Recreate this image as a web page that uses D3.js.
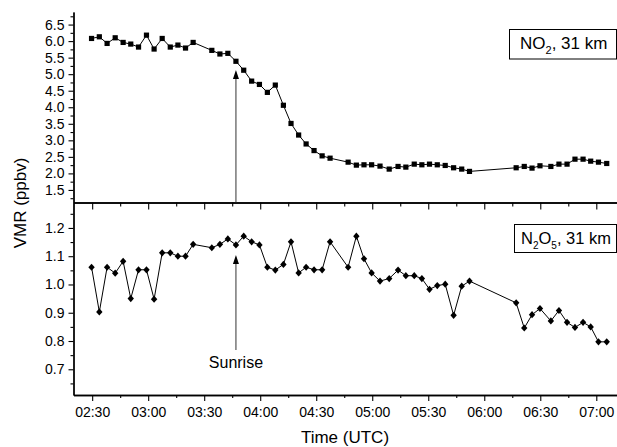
<!DOCTYPE html>
<html>
<head>
<meta charset="utf-8">
<script src="https://cdn.jsdelivr.net/npm/d3@7"></script>
<style>
  body { margin: 0; background: #fff; }
  #container { width: 617px; height: 447px; }
  text { font-family: "Liberation Sans", Arial, sans-serif; fill: #000; }
</style>
</head>
<body>
<div id="container"></div>
<script>
// measurement times (UTC), shared by both panels
const times = [
  "02:29:40","02:33:50","02:38:00","02:42:20","02:46:35","02:50:40","02:54:50","02:59:05","03:03:10","03:07:30",
  "03:11:50","03:15:55","03:20:00","03:24:05","03:34:05","03:38:25","03:42:40","03:47:00","03:51:10","03:55:25",
  "03:59:35","04:03:50","04:08:05","04:12:25","04:16:30","04:20:35","04:24:35","04:28:50","04:33:10","04:37:25",
  "04:47:05","04:51:30","04:55:35","04:59:40","05:04:10","05:09:05","05:13:50","05:18:00","05:22:30","05:26:35",
  "05:30:40","05:34:50","05:39:05","05:43:35","05:47:55","05:52:05","06:17:05","06:21:25","06:25:35","06:29:50",
  "06:35:40","06:40:00","06:44:20","06:48:35","06:52:55","06:57:00","07:01:10","07:05:35"
];

// NO2 VMR (ppbv), 31 km
const no2 = [
  6.08, 6.13, 5.93, 6.10, 5.96, 5.91, 5.82, 6.18, 5.76, 6.08,
  5.82, 5.88, 5.79, 5.96, 5.72, 5.61, 5.63, 5.39, 5.12, 4.79,
  4.69, 4.45, 4.67, 4.06, 3.51, 3.16, 2.89, 2.69, 2.53, 2.46,
  2.34, 2.25, 2.26, 2.26, 2.22, 2.13, 2.21, 2.19, 2.28, 2.26,
  2.28, 2.26, 2.24, 2.17, 2.13, 2.06, 2.17, 2.21, 2.16, 2.23,
  2.21, 2.28, 2.28, 2.43, 2.43, 2.37, 2.34, 2.30
];

// N2O5 VMR (ppbv), 31 km
const n2o5 = [
  1.061, 0.903, 1.061, 1.040, 1.082, 0.950, 1.052, 1.052, 0.948, 1.112,
  1.112, 1.100, 1.100, 1.142, 1.130, 1.142, 1.161, 1.140, 1.171, 1.151,
  1.140, 1.061, 1.051, 1.071, 1.151, 1.041, 1.061, 1.052, 1.052, 1.151,
  1.061, 1.171, 1.091, 1.041, 1.012, 1.021, 1.051, 1.031, 1.031, 1.021,
  0.983, 0.996, 1.001, 0.891, 0.994, 1.012, 0.935, 0.846, 0.893, 0.915,
  0.871, 0.908, 0.866, 0.848, 0.866, 0.850, 0.797, 0.797
];

const xMajorTicks = ["02:30","03:00","03:30","04:00","04:30","05:00","05:30","06:00","06:30","07:00"];
const xMinorTicks = ["02:45","03:15","03:45","04:15","04:45","05:15","05:45","06:15","06:45"];
const no2Ticks = [1.5, 2.0, 2.5, 3.0, 3.5, 4.0, 4.5, 5.0, 5.5, 6.0, 6.5];
const no2Minor = [1.25, 1.75, 2.25, 2.75, 3.25, 3.75, 4.25, 4.75, 5.25, 5.75, 6.25, 6.75];
const n2o5Ticks = [0.7, 0.8, 0.9, 1.0, 1.1, 1.2];
const n2o5Minor = [0.65, 0.75, 0.85, 0.95, 1.05, 1.15, 1.25];
const sunriseTime = "03:47:00";

const parseTime = d3.timeParse("%H:%M:%S");
const parseHM = d3.timeParse("%H:%M");

function draw() {
  let width = 617, height = 447;

  let svg = d3.select("#container")
    .append("svg")
    .attr("width", width)
    .attr("height", height);

  const left = 73.5, right = 618.7;
  const topY = 12, midY = 202.5, botY = 395;

  const x = d3.scaleTime()
    .domain([parseHM("02:20"), parseHM("07:12")])
    .range([left, right]);

  const yTop = d3.scaleLinear().domain([1.12, 6.88]).range([midY, topY]);
  const yBot = d3.scaleLinear().domain([0.609, 1.29]).range([botY, midY]);

  const dates = times.map(parseTime);
  const topData = dates.map((d, i) => ({t: d, v: no2[i]}));
  const botData = dates.map((d, i) => ({t: d, v: n2o5[i]}));

  // ---- axes ----
  function leftAxis(scale, major, minor) {
    svg.append("g")
      .attr("class", "y_minor")
      .attr("transform", "translate(" + left + ",0)")
      .call(d3.axisLeft(scale).tickValues(minor).tickSize(3).tickFormat("").tickSizeOuter(0));
    svg.append("g")
      .attr("class", "y_axis")
      .attr("transform", "translate(" + left + ",0)")
      .call(d3.axisLeft(scale).tickValues(major).tickSize(5).tickPadding(4).tickSizeOuter(0)
        .tickFormat(d3.format(".1f")));
  }
  leftAxis(yTop, no2Ticks, no2Minor);
  leftAxis(yBot, n2o5Ticks, n2o5Minor);

  // bottom time axis
  svg.append("g")
    .attr("transform", "translate(0," + botY + ")")
    .call(d3.axisBottom(x).tickValues(xMinorTicks.map(parseHM)).tickSize(3).tickFormat("").tickSizeOuter(0));
  svg.append("g")
    .attr("class", "x_axis")
    .attr("transform", "translate(0," + botY + ")")
    .call(d3.axisBottom(x).tickValues(xMajorTicks.map(parseHM)).tickSize(6).tickPadding(6).tickSizeOuter(0)
      .tickFormat(d3.timeFormat("%H:%M")));

  // separator line (top of lower panel) with inward ticks
  svg.append("g")
    .attr("transform", "translate(0," + midY + ")")
    .call(d3.axisBottom(x).tickValues(xMinorTicks.map(parseHM)).tickSize(4).tickFormat("").tickSizeOuter(0));
  svg.append("g")
    .attr("transform", "translate(0," + midY + ")")
    .call(d3.axisBottom(x).tickValues(xMajorTicks.map(parseHM)).tickSize(7).tickFormat("").tickSizeOuter(0));

  svg.selectAll(".domain").attr("stroke", "#000").attr("stroke-width", 1.3);
  svg.selectAll(".tick line").attr("stroke", "#000").attr("stroke-width", 1.1);
  svg.selectAll(".y_axis text").style("font-size", "14px");
  svg.selectAll(".x_axis text").style("font-size", "14px");

  // ---- series ----
  const lineTop = d3.line().x(d => x(d.t)).y(d => yTop(d.v));
  const lineBot = d3.line().x(d => x(d.t)).y(d => yBot(d.v));

  svg.append("path")
    .datum(topData)
    .attr("d", lineTop)
    .attr("fill", "none")
    .attr("stroke", "#000")
    .attr("stroke-width", 1);

  svg.append("g").selectAll("rect")
    .data(topData)
    .enter()
    .append("rect")
    .attr("x", d => x(d.t) - 2.6)
    .attr("y", d => yTop(d.v) - 2.6)
    .attr("width", 5.2)
    .attr("height", 5.2)
    .attr("fill", "#000");

  svg.append("path")
    .datum(botData)
    .attr("d", lineBot)
    .attr("fill", "none")
    .attr("stroke", "#000")
    .attr("stroke-width", 1);

  svg.append("g").selectAll("path")
    .data(botData)
    .enter()
    .append("path")
    .attr("transform", d => "translate(" + x(d.t) + "," + yBot(d.v) + ")")
    .attr("d", "M0,-3.6L3.2,0L0,3.6L-3.2,0Z")
    .attr("fill", "#000");

  // ---- sunrise arrows ----
  const sx = x(parseTime(sunriseTime));
  function arrow(y1, y2) {
    svg.append("line")
      .attr("x1", sx).attr("x2", sx)
      .attr("y1", y1).attr("y2", y2 + 6)
      .attr("stroke", "#333")
      .attr("stroke-width", 1);
    svg.append("path")
      .attr("d", "M" + sx + "," + y2 + "L" + (sx - 3) + "," + (y2 + 9) + "L" + (sx + 3) + "," + (y2 + 9) + "Z")
      .attr("fill", "#000");
  }
  arrow(midY, 70);
  arrow(350, 255);

  svg.append("text")
    .attr("x", sx)
    .attr("y", 368)
    .attr("text-anchor", "middle")
    .style("font-size", "16px")
    .text("Sunrise");

  // ---- legend boxes ----
  function legendBox(y0, h, x0, pad, build) {
    svg.append("rect")
      .attr("x", x0).attr("y", y0)
      .attr("width", 616.5 - x0).attr("height", h)
      .attr("fill", "#fff")
      .attr("stroke", "#000")
      .attr("stroke-width", 1);
    let t = svg.append("text")
      .attr("x", x0 + pad)
      .attr("y", y0 + 19.5)
      .style("font-size", "17px");
    build(t);
  }

  legendBox(29.5, 29.5, 509.5, 10.5, t => {
    t.append("tspan").text("NO");
    t.append("tspan").attr("dy", 5).style("font-size", "11px").text("2");
    t.append("tspan").attr("dy", -5).text(", 31 km");
  });

  legendBox(224.5, 28, 514.5, 6.5, t => {
    t.style("font-size", "16.5px");
    t.append("tspan").text("N");
    t.append("tspan").attr("dy", 5).style("font-size", "10px").text("2");
    t.append("tspan").attr("dy", -5).text("O");
    t.append("tspan").attr("dy", 5).style("font-size", "10px").text("5");
    t.append("tspan").attr("dy", -5).text(", 31 km");
  });

  // ---- axis titles ----
  svg.append("text")
    .attr("transform", "translate(26," + 203 + ") rotate(-90)")
    .attr("text-anchor", "middle")
    .style("font-size", "17px")
    .text("VMR (ppbv)");

  svg.append("text")
    .attr("x", 345)
    .attr("y", 443)
    .attr("text-anchor", "middle")
    .style("font-size", "17px")
    .text("Time (UTC)");
}

window.addEventListener("load", draw);
</script>
</body>
</html>
